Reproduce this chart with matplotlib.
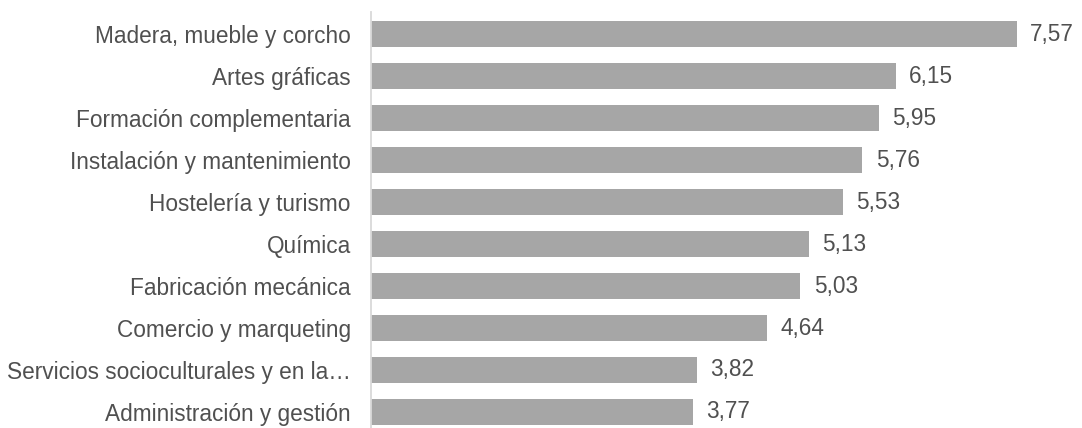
import matplotlib
matplotlib.use("Agg")
import matplotlib.pyplot as plt

plt.rcParams["font.family"] = ["Liberation Sans", "DejaVu Sans"]

categorias = [
    "Madera, mueble y corcho",
    "Artes gráficas",
    "Formación complementaria",
    "Instalación y mantenimiento",
    "Hostelería y turismo",
    "Química",
    "Fabricación mecánica",
    "Comercio y marqueting",
    "Servicios socioculturales y en la…",
    "Administración y gestión",
]
valores = [7.57, 6.15, 5.95, 5.76, 5.53, 5.13, 5.03, 4.64, 3.82, 3.77]
etiquetas = ["7,57", "6,15", "5,95", "5,76", "5,53", "5,13", "5,03", "4,64", "3,82", "3,77"]

W, H = 1082, 428
fig = plt.figure(figsize=(W / 100, H / 100), dpi=100)
ax = fig.add_axes([371 / W, 0, 711 / W, 416 / H])

pos = list(range(len(categorias)))
ax.barh(pos, valores, height=0.6, color="#a6a6a6")
ax.set_ylim(9.381, -0.524)
ax.set_xlim(0, 711 / 85.3)

for p, v, t in zip(pos, valores, etiquetas):
    ax.text(v + 0.16, p, t, va="center", ha="left", fontsize=16.3, color="#505050")

ax.set_yticks(pos)
ax.set_yticklabels(categorias, fontsize=16.3, color="#505050")
ax.tick_params(axis="y", length=0, pad=14.5)
ax.set_xticks([])
for s in ["top", "right", "bottom"]:
    ax.spines[s].set_visible(False)
ax.spines["left"].set_color("#d9d9d9")
ax.spines["left"].set_linewidth(1.3)

fig.savefig("out.png", dpi=100)
